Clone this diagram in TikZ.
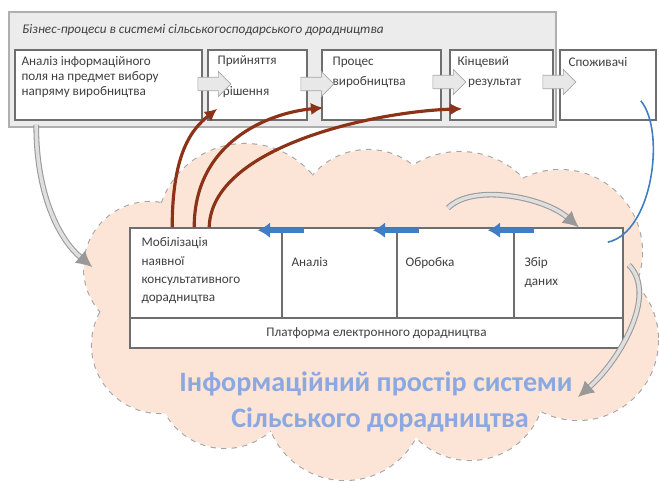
\documentclass[tikz,border=0pt]{standalone}
\usepackage{fontspec}
\setmainfont{Carlito}
\usepackage{tikz}
\usetikzlibrary{positioning,arrows.meta,shapes.arrows,fit,calc}
\definecolor{cloudfill}{RGB}{252,229,215}
\definecolor{cloudline}{RGB}{165,165,165}
\definecolor{panelgray}{RGB}{236,236,236}
\definecolor{framegray}{RGB}{175,175,175}
\definecolor{boxline}{RGB}{110,110,110}
\definecolor{flowblue}{RGB}{65,125,195}
\definecolor{rust}{RGB}{140,50,22}
\definecolor{titleblue}{RGB}{140,168,225}
\tikzset{
  panel/.style={draw=framegray,fill=panelgray,line width=1.4pt,inner sep=0pt},
  box/.style={draw=boxline,fill=white,line width=0.9pt,inner sep=0pt},
  txt/.style={anchor=north west,align=left,inner sep=0pt,text=black!75,
    font=\fontsize{7.5}{8.5}\selectfont},
  cloudedge/.style={draw=cloudline,dashed,line width=1.2pt},
  cloudtxt/.style={text=titleblue,font=\fontsize{16}{18}\selectfont\bfseries},
  chev/.style={single arrow,draw=gray!70,fill=gray!18,inner sep=0.11cm,
    minimum height=0.66cm,minimum width=0.5cm,single arrow head extend=0.1cm},
  rarr/.style={-{Latex[length=7pt,width=7pt]},rust,line width=1.8pt},
  barr/.style={-{Latex[length=7pt,width=9pt]},flowblue,line width=3pt},
  garr/.style={-{Latex[length=9pt,width=9pt]},draw=gray!80,double=gray!25,
    double distance=2pt,line width=0.6pt},
}

\begin{document}
\begin{tikzpicture}[x=0.02cm,y=-0.02cm]
\useasboundingbox (0,0) rectangle (659,482);

% cloud
\foreach \cx/\cy/\r in {245/232/88,368/222/72,460/240/88,560/252/82,150/268/66,
    160/345/68,225/380/68,345/400/80,470/385/75,578/340/80}
  \draw[cloudedge] (\cx,\cy) circle[radius=\r];
\foreach \cx/\cy/\r in {245/232/88,368/222/72,460/240/88,560/252/82,150/268/66,
    160/345/68,225/380/68,345/400/80,470/385/75,578/340/80}
  \fill[cloudfill] (\cx,\cy) circle[radius=\r];
\fill[cloudfill] (380,300) ellipse[x radius=220,y radius=120];

\node[cloudtxt] (sp1) at (376,384) {Інформаційний простір системи};
\node[cloudtxt] (sp2) at (380,420) {Сільського дорадництва};

% platform table
\node[box,fit={(130,228) (282,318)}] (mob) {};
\node[box,fit={(282,228) (397,318)}] (anl) {};
\node[box,fit={(397,228) (514,318)}] (proc) {};
\node[box,fit={(514,228) (623,318)}] (coll) {};
\node[box,fit={(130,318) (623,348)}] (plat) {};

\node[txt,font=\fontsize{7.5}{10.5}\selectfont] (t1) at ($(mob.north west)+(12,10)$)
  {Мобілізація\\наявної\\консультативного\\дорадництва};
\node[txt] (t2) at ($(anl.north west)+(10,30)$) {Аналіз};
\node[txt] (t3) at ($(proc.north west)+(9,30)$) {Обробка};
\node[txt,font=\fontsize{7.5}{10.5}\selectfont] (t4) at ($(coll.north west)+(11,30)$) {Збір\\даних};
\node[txt,anchor=center] (t5) at (plat.center) {Платформа електронного дорадництва};

% flow inside the cloud
\coordinate (loopst) at (448,208);
\coordinate (rgtend) at (578,397);
\draw[garr] (loopst) .. controls +(25,-25) and +(-35,-30) .. ($(coll.north east)+(-45,0)$);
\draw[garr] ($(coll.east)+(5,-8)$) .. controls +(30,30) and +(40,-35) .. (rgtend);

\draw[barr] ($(mob.north east)+(21,3)$) -- ($(mob.north east)+(-25,3)$);
\draw[barr] ($(anl.north east)+(21,3)$) -- ($(anl.north east)+(-25,3)$);
\draw[barr] ($(proc.north east)+(19,3)$) -- ($(proc.north east)+(-27,3)$);

% business processes
\node[panel,fit={(9,12) (556,127)}] (pan) {};
\node[txt,anchor=west,font=\fontsize{7.5}{8.5}\selectfont\itshape] (ttl) at (22,30)
  {Бізнес-процеси в системі сільськогосподарського дорадництва};

\node[box,fit={(15,50) (202,120)}] (inf) {};
\node[box,fit={(208,50) (307,120)}] (dec) {};
\node[box,fit={(322,50) (441,120)}] (prod) {};
\node[box,fit={(450,50) (553,120)}] (res) {};
\node[box,fit={(560,50) (656,120)}] (cons) {};

\node[txt] (b1) at ($(inf.north west)+(7,7)$)
  {Аналіз інформаційного\\поля на предмет вибору\\напряму виробництва};
\node[txt] (b2) at ($(dec.north west)+(10,6)$) {Прийняття\\[9pt]\hspace{3pt}рішення};
\node[txt] (b3) at ($(prod.north west)+(11,7)$) {Процес\\[3pt]виробництва};
\node[txt] (b4) at ($(res.north west)+(8,7)$) {Кінцевий\\[3pt]\hspace{6pt}результат};
\node[txt] (b5) at ($(cons.north west)+(9,8)$) {Споживачі};

\node[chev] (ch1) at (211,84) {};
\node[chev] (ch2) at (314,84) {};
\node[chev] (ch3) at (446,82) {};
\node[chev] (ch4) at (556,82) {};

% links between the levels
\draw[rarr] ($(mob.north west)+(43,0)$) .. controls +(0,-75) and +(-25,20) .. ($(dec.south west)+(10,-12)$);
\draw[rarr] ($(mob.north west)+(65,0)$) .. controls +(0,-85) and +(-55,5) .. ($(prod.south west)+(2,-13)$);
\draw[rarr] ($(mob.north west)+(80,0)$) .. controls +(2,-80) and +(-90,3) .. ($(res.south west)+(13,-12)$);

\draw[garr] ($(inf.south west)+(22,4)$) .. controls +(0,75) and +(-30,-25) .. ($(mob.west)+(-37,-6)$);
\draw[flowblue,line width=0.9pt] ($(cons.south east)+(-16,-20)$) .. controls +(25,30) and +(45,-10) .. ($(coll.north east)+(-16,15)$);
\end{tikzpicture}
\end{document}
